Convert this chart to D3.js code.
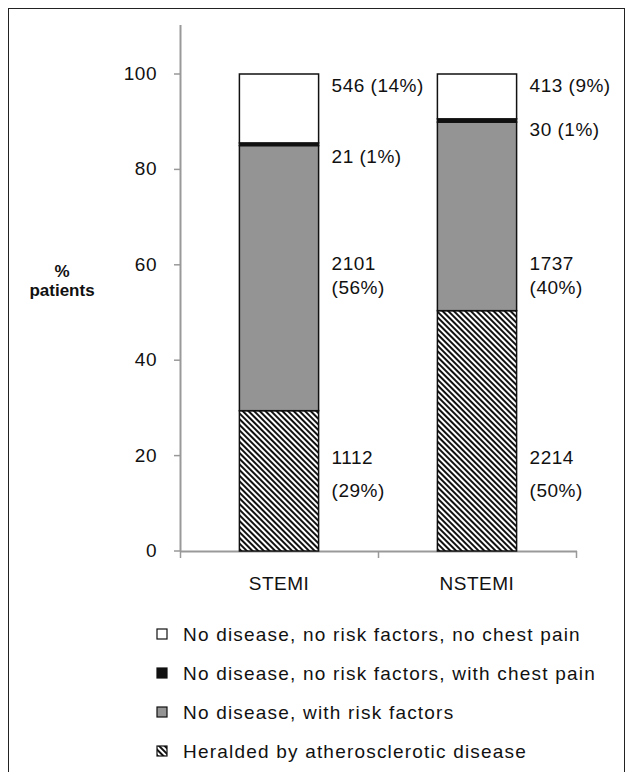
<!DOCTYPE html>
<html><head><meta charset="utf-8">
<script src="https://cdn.jsdelivr.net/npm/d3@7"></script>
<style>body{margin:0;background:#fff}text{font-family:"Liberation Sans",Arial,sans-serif;fill:#111}</style>
</head><body>
<svg id="chart" width="633" height="772"></svg>
<script>
var categories = ["STEMI", "NSTEMI"];
var seriesNames = ["Heralded by atherosclerotic disease", "No disease, with risk factors",
    "No disease, no risk factors, with chest pain", "No disease, no risk factors, no chest pain"];
var heralded = [1112, 2214];
var withRisk = [2101, 1737];
var chestPain = [21, 30];
var noPain = [546, 413];
var pctLabels = [["29%", "56%", "1%", "14%"], ["50%", "40%", "1%", "9%"]];
// value (in %) where each label sits
var labelAt = [[[19.7, 12.8], [60.4, 55.3], [82.8, 82.8], [97.6, 97.6]],
               [[19.7, 12.8], [60.4, 55.3], [88.5, 88.5], [97.6, 97.6]]];
var wrapLabel = [true, true, false, false];
var yTicks = [0, 20, 40, 60, 80, 100];
var fs = 17, lfs = 19;

var svg = d3.select("#chart");
svg.append("rect").attr("x", 8.5).attr("y", 8.5).attr("width", 616).attr("height", 780)
    .attr("fill", "none").attr("stroke", "#222");

var defs = svg.append("defs");
var pat = defs.append("pattern").attr("id", "hatch").attr("patternUnits", "userSpaceOnUse")
    .attr("width", 4).attr("height", 4).attr("patternTransform", "rotate(-45)");
pat.append("rect").attr("width", 4).attr("height", 4).attr("fill", "#fff");
pat.append("rect").attr("width", 2).attr("height", 4).attr("fill", "#111");

var fills = ["url(#hatch)", "#949494", "#111", "#fff"];
var x = d3.scaleBand().domain(categories).range([180, 576]).paddingInner(0.6).paddingOuter(0.3);
var y = d3.scaleLinear().domain([0, 100]).range([551, 74]);

var rows = categories.map(function(c, i) {
    var vals = [heralded[i], withRisk[i], chestPain[i], noPain[i]];
    var tot = d3.sum(vals), acc = 0;
    return vals.map(function(v) { var s = acc; acc += v; return {c: c, v: v, y0: s / tot * 100, y1: acc / tot * 100}; });
});

// axes
svg.append("line").attr("x1", 180.5).attr("x2", 180.5).attr("y1", 25).attr("y2", 551).attr("stroke", "#999").attr("stroke-width", 2);
svg.append("line").attr("x1", 180).attr("x2", 577).attr("y1", 551.5).attr("y2", 551.5).attr("stroke", "#999").attr("stroke-width", 2);
yTicks.forEach(function(t) {
    svg.append("line").attr("x1", 174).attr("x2", 180).attr("y1", y(t)).attr("y2", y(t)).attr("stroke", "#999").attr("stroke-width", 1.5);
    svg.append("text").attr("x", 157).attr("y", y(t) + 6).attr("text-anchor", "end").attr("font-size", lfs).attr("letter-spacing", 0.5).text(t);
});
[180, 378, 576].forEach(function(xx) {
    svg.append("line").attr("x1", xx + 0.5).attr("x2", xx + 0.5).attr("y1", 551).attr("y2", 558).attr("stroke", "#999").attr("stroke-width", 1.5);
});
categories.forEach(function(c) {
    svg.append("text").attr("x", x(c) + x.bandwidth() / 2).attr("y", 590).attr("text-anchor", "middle").attr("font-size", lfs).attr("letter-spacing", 0.5).text(c);
});
svg.append("text").attr("x", 62).attr("y", 277).attr("text-anchor", "middle").attr("font-size", fs).attr("font-weight", "bold").text("%");
svg.append("text").attr("x", 62).attr("y", 296).attr("text-anchor", "middle").attr("font-size", fs).attr("font-weight", "bold").text("patients");

// bars
rows.forEach(function(segs, i) {
    segs.forEach(function(s, k) {
        svg.append("rect").attr("x", x(s.c)).attr("width", x.bandwidth())
            .attr("y", y(s.y1)).attr("height", y(s.y0) - y(s.y1))
            .attr("fill", fills[k]).attr("stroke", "#111").attr("stroke-width", 1.5);
        var lx = x(s.c) + x.bandwidth() + 13;
        var la = labelAt[i][k];
        var lines = wrapLabel[k] ? [[la[0], s.v], [la[1], "(" + pctLabels[i][k] + ")"]]
                                 : [[la[0], s.v + " (" + pctLabels[i][k] + ")"]];
        lines.forEach(function(l) {
            svg.append("text").attr("x", lx).attr("y", y(l[0]) + 7).attr("font-size", lfs)
                .attr("letter-spacing", 0.5).text(l[1]);
        });
    });
});

// legend
var legOrder = [3, 2, 1, 0];
legOrder.forEach(function(k, j) {
    var ly = 634 + j * 39;
    svg.append("rect").attr("x", 157).attr("y", ly - 5).attr("width", 10).attr("height", 10)
        .attr("fill", fills[k]).attr("stroke", "#111").attr("stroke-width", 1.2);
    svg.append("text").attr("x", 183).attr("y", ly + 7).attr("font-size", lfs)
        .attr("letter-spacing", 1.2).text(seriesNames[k]);
});
</script>
</body></html>
